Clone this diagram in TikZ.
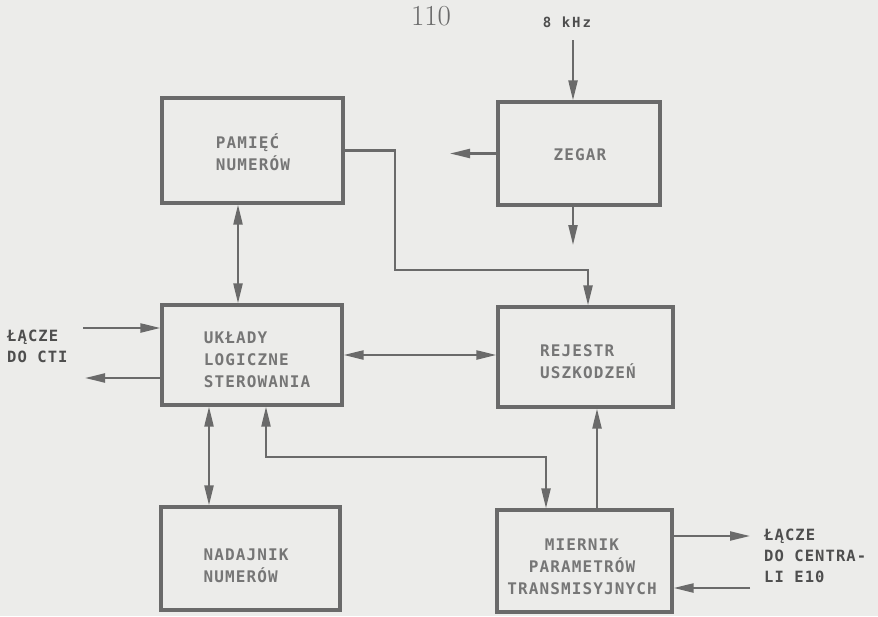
\documentclass[tikz,border=0pt]{standalone}
\usepackage{fontspec}
\usetikzlibrary{arrows.meta,calc}
\newfontfamily\labfont[LetterSpace=7]{DejaVu Sans Mono}
\newfontfamily\khzfont[LetterSpace=14]{DejaVu Sans Mono}
\definecolor{bg}{HTML}{ECECEA}
\definecolor{ink}{HTML}{6A6A6A}
\definecolor{txtin}{HTML}{767676}
\definecolor{txtout}{HTML}{4E4E4E}
\tikzset{
  blk/.style={draw=ink, line width=3.2pt, rectangle, inner sep=0pt},
  intxt/.style={text=txtin, align=left, inner sep=0pt, font=\labfont\bfseries\fontsize{16}{22}\selectfont},
  outtxt/.style={text=txtout, align=left, inner sep=0pt, anchor=west, font=\labfont\bfseries\fontsize{15.5}{21}\selectfont},
  conn/.style={draw=ink, line width=2.2pt},
  arr/.style={conn, -{Triangle[length=20pt,width=9pt]}},
  arrtwo/.style={conn, {Triangle[length=20pt,width=9pt]}-{Triangle[length=20pt,width=9pt]}}
}
\begin{document}
\begin{tikzpicture}[x=1pt,y=-1pt]
\fill[bg] (0,0) rectangle (878,616);
\useasboundingbox (0,0) rectangle (878,616);

% page number and input label
\node[text=ink, font=\fontsize{29}{30}\selectfont, inner sep=0pt] (pg) at (431,16) {110};
\node[text=txtout, font=\khzfont\bfseries\fontsize{14}{16}\selectfont, inner sep=0pt] (khz) at (567,22) {8 kHz};

% blocks
\node[blk, minimum width=181pt, minimum height=105pt] (pam) at (252.5,150.5) {};
\node[intxt] (tpam) at (253,152) {PAMIĘĆ\\NUMERÓW};

\node[blk, minimum width=162pt, minimum height=103pt] (zeg) at (579,153.5) {};
\node[intxt] (tzeg) at (580,155) {ZEGAR};

\node[blk, minimum width=180pt, minimum height=100pt] (ukl) at (252,355) {};
\node[intxt] (tukl) at (257,360) {UKŁADY\\LOGICZNE\\STEROWANIA};

\node[blk, minimum width=175pt, minimum height=100pt] (rej) at (585.5,357) {};
\node[intxt] (trej) at (588,362) {REJESTR\\USZKODZEŃ};

\node[blk, minimum width=179pt, minimum height=103pt] (nad) at (250.5,558.5) {};
\node[intxt] (tnad) at (246,566) {NADAJNIK\\NUMERÓW};

\node[blk, minimum width=175pt, minimum height=102pt] (mie) at (584.5,561) {};
\node[intxt, align=center] (tmie) at (582,567) {MIERNIK\\PARAMETRÓW\\TRANSMISYJNYCH};

% outside labels
\node[outtxt] (cti) at (7,346) {ŁĄCZE\\DO CTI};
\node[outtxt] (e10) at (764,556) {ŁĄCZE\\DO CENTRA-\\LI E10};

% helper coordinates
\coordinate (k8) at (573,40);
\coordinate (zl) at (450,153.5);
\coordinate (zd) at (573,245);
\coordinate (xa) at (238,0);
\coordinate (xb) at (209,0);
\coordinate (xc) at (266,457);
\coordinate (xd) at (546,457);
\coordinate (xe) at (597,0);
\coordinate (pr1) at (395,270);
\coordinate (pr2) at (588,270);
\coordinate (ctiin) at (83,328);
\coordinate (ctiout) at (85,378);
\coordinate (e10out) at (750,536);
\coordinate (e10in) at (750,588);

% connectors
\draw[arr] (k8) -- (k8 |- zeg.north);
\draw[arr] (zeg.west) -- (zl);
\draw[arr] (zd |- zeg.south) -- (zd);
\draw[arr] (pam.east) -| (pr1) -- (pr2) -- (pr2 |- rej.north);
\draw[arrtwo] (pam.south -| xa) -- (ukl.north -| xa);
\draw[arr] (ctiin) -- (ctiin -| ukl.west);
\draw[arr] (ctiout -| ukl.west) -- (ctiout);
\draw[arrtwo] (ukl.east) -- (ukl.east -| rej.west);
\draw[arrtwo] (ukl.south -| xb) -- (nad.north -| xb);
\draw[arrtwo] (ukl.south -| xc) -- (xc) -- (xd) -- (xd |- mie.north);
\draw[arr] (mie.north -| xe) -- (rej.south -| xe);
\draw[arr] (e10out -| mie.east) -- (e10out);
\draw[arr] (e10in) -- (e10in -| mie.east);
\end{tikzpicture}
\end{document}
